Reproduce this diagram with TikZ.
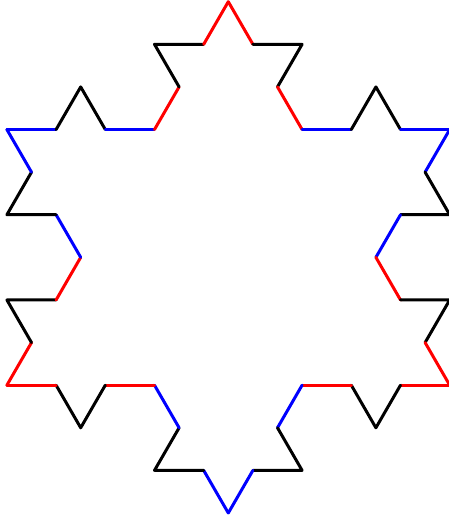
\documentclass[tikz,border=0pt]{standalone}
\usepackage{tikz}

\tikzset{kochline/.style={line width=3pt,line cap=round,line join=round}}

\begin{document}
\begin{tikzpicture}[x=1pt,y=1pt]
   \useasboundingbox (0,0) rectangle (448,517);
   \coordinate (p) at (228.3,515.3);
   % three sides, each with four level-one edges
   \foreach \side in {-60,180,60}
     \foreach \turn/\col in {0/red,60/blue,-60/blue,0/red}{
       \pgfmathsetmacro{\dir}{\side+\turn}
       \draw[kochline,\col] (p) -- ++(\dir:49.2) coordinate (p);
       \draw[kochline,black] (p) -- ++(\dir+60:49.2) -- ++(\dir-60:49.2) coordinate (p);
       \draw[kochline,\col] (p) -- ++(\dir:49.2) coordinate (p);
     }
\end{tikzpicture}
\end{document}
